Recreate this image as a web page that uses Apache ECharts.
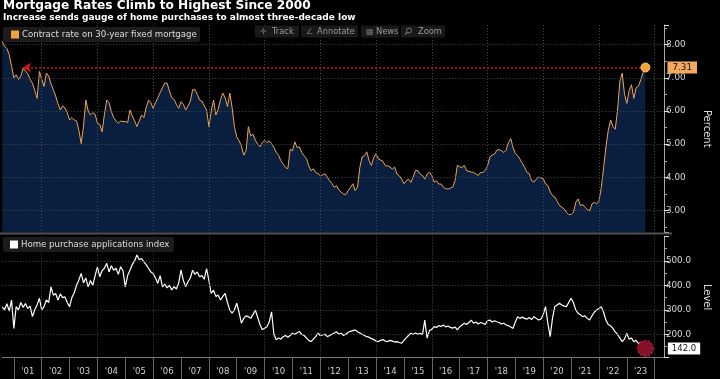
<!DOCTYPE html>
<html><head><meta charset="utf-8">
<script src="https://cdn.jsdelivr.net/npm/echarts@6/dist/echarts.min.js"></script>
<style>html,body{margin:0;padding:0;background:#000;}#c{width:720px;height:379px;}</style>
</head><body><div id="c"></div>
<script>
// Monthly categories Aug 2000 .. May 2024
const startYear = 2000, startMonth = 8, endYear = 2024, endMonth = 5;
const months = [];
for (let y = startYear, m = startMonth; y < endYear || (y === endYear && m <= endMonth);) {
  months.push(y + '-' + String(m).padStart(2, '0'));
  m++; if (m > 12) { m = 1; y++; }
}

// Contract rate on 30-year fixed mortgage (%), Aug 2000 .. Sep 2023
const contractRate = [
  8.10, 7.95, 7.88, 7.70, 7.35,
  7.00, 7.09, 6.95, 7.05, 7.29, 7.20, 7.12, 6.95, 6.84, 6.62, 6.38, 7.19,
  6.95, 6.74, 7.14, 7.05, 6.82, 6.64, 6.45, 6.22, 6.03, 6.15, 6.09, 5.95,
  5.73, 5.80, 5.73, 5.70, 5.42, 5.02, 5.55, 6.33, 6.00, 5.88, 5.95, 5.90,
  5.63, 5.60, 5.37, 5.90, 6.33, 6.25, 5.98, 5.80, 5.70, 5.63, 5.70, 5.68,
  5.68, 5.65, 6.03, 5.85, 5.70, 5.53, 5.70, 5.88, 5.80, 6.10, 6.33, 6.25,
  6.08, 6.25, 6.40, 6.55, 6.70, 6.84, 6.84, 6.60, 6.40, 6.35, 6.20, 6.08,
  6.28, 6.20, 6.03, 6.15, 6.30, 6.64, 6.64, 6.50, 6.33, 6.30, 6.15, 6.03,
  5.53, 6.00, 6.33, 5.88, 6.05, 6.35, 6.54, 6.40, 6.13, 6.54, 6.10, 5.53,
  5.22, 5.10, 4.95, 4.67, 4.80, 5.53, 5.25, 5.30, 5.12, 5.00, 4.92, 5.05,
  5.12, 5.05, 5.10, 5.02, 4.90, 4.75, 4.67, 4.50, 4.40, 4.30, 4.26, 4.85,
  4.80, 5.07, 4.90, 4.92, 4.75, 4.65, 4.57, 4.35, 4.20, 4.26, 4.15, 4.11,
  4.05, 4.08, 4.11, 4.01, 3.90, 3.81, 3.70, 3.75, 3.62, 3.55, 3.50, 3.48,
  3.60, 3.70, 3.81, 3.60, 3.70, 4.30, 4.62, 4.65, 4.77, 4.50, 4.36, 4.60,
  4.72, 4.55, 4.52, 4.48, 4.35, 4.35, 4.31, 4.25, 4.31, 4.10, 4.05, 3.95,
  3.81, 3.90, 3.95, 3.85, 4.01, 4.21, 4.20, 4.10, 4.06, 3.95, 4.10, 4.16,
  4.06, 3.86, 3.90, 3.80, 3.80, 3.70, 3.66, 3.65, 3.68, 3.71, 3.90, 4.36,
  4.32, 4.30, 4.36, 4.20, 4.18, 4.16, 4.15, 4.10, 4.06, 4.15, 4.15, 4.21,
  4.35, 4.62, 4.67, 4.70, 4.82, 4.84, 4.80, 4.75, 4.82, 5.05, 5.17, 4.90,
  4.72, 4.65, 4.55, 4.42, 4.30, 4.15, 4.11, 3.90, 3.86, 3.95, 4.01, 3.98,
  3.96, 3.80, 3.75, 3.56, 3.45, 3.41, 3.28, 3.15, 3.10, 3.05, 2.95, 2.88,
  2.88, 2.95, 3.25, 3.35, 3.15, 3.18, 3.10, 3.03, 3.00, 3.20, 3.25, 3.20,
  3.30, 3.69, 4.30, 4.92, 5.42, 5.73, 5.53, 5.45, 6.03, 6.90, 7.14, 6.50,
  6.23, 6.62, 6.79, 6.38, 6.70, 6.75, 6.94, 7.16, 7.31
];

// Home purchase applications index, Aug 2000 .. Sep 2023
const purchaseIndex = [
  312, 300, 325, 295, 340,
  224, 313, 300, 330, 310, 326, 305, 315, 272, 300, 320, 347,
  300, 313, 340, 330, 394, 360, 367, 340, 365, 350, 353, 330,
  313, 350, 370, 400, 422, 449, 410, 430, 394, 420, 400, 440,
  476, 435, 460, 470, 490, 455, 480, 462, 470, 445, 476, 460,
  394, 440, 462, 485, 500, 524, 505, 510, 496, 485, 470, 455,
  449, 430, 408, 440, 394, 405, 390, 400, 381, 395, 385, 410,
  462, 420, 394, 415, 430, 462, 445, 455, 435, 440, 425, 469,
  420, 367, 380, 355, 360, 340, 355, 367, 330, 300, 286, 300,
  327, 290, 245, 265, 275, 272, 265, 280, 299, 270, 240, 218,
  225, 231, 250, 292, 200, 177, 185, 180, 190, 195, 188, 195,
  204, 200, 206, 211, 200, 195, 185, 175, 170, 180, 190, 204,
  195, 197, 200, 190, 195, 200, 205, 210, 200, 204, 195, 200,
  208, 212, 215, 218, 210, 205, 200, 195, 190, 188, 182, 178,
  172, 170, 175, 178, 172, 170, 175, 172, 168, 170, 166, 163,
  175, 185, 195, 204, 200, 205, 200, 204, 198, 258, 184, 215,
  220, 231, 228, 235, 232, 238, 230, 234, 228, 225, 230, 218,
  230, 238, 245, 240, 248, 258, 245, 250, 242, 248, 245, 240,
  255, 258, 250, 255, 251, 248, 242, 245, 238, 235, 230, 224,
  250, 272, 265, 270, 265, 262, 268, 260, 272, 265, 258, 262,
  280, 313, 245, 190, 265, 313, 320, 327, 320, 315, 313, 330,
  347, 330, 300, 286, 280, 272, 275, 265, 258, 275, 290, 299,
  305, 313, 290, 258, 240, 235, 224, 210, 200, 185, 170, 180,
  204, 180, 185, 170, 175, 163, 165, 155, 142
];

const matchMonth = '2001-05';  // where the rate was last at today's level
const titleText = 'Mortgage Rates Climb to Highest Since 2000';
const subtitleText = 'Increase sends gauge of home purchases to almost three-decade low';
const rateLegend = 'Contract rate on 30-year fixed mortgage';
const indexLegend = 'Home purchase applications index';
const toolButtons = ['Track', 'Annotate', 'News', 'Zoom'];

const lastRateCat = months[contractRate.length - 1];
const lastRate = contractRate[contractRate.length - 1];
const lastIdxCat = months[purchaseIndex.length - 1];
const lastIdx = purchaseIndex[purchaseIndex.length - 1];

const FONT = '"DejaVu Sans", Verdana, sans-serif';
const gridLeft = 2.25, gridRight = 48;
const isJan = (i, v) => v.endsWith('-01');
const isJul = (i, v) => v.endsWith('-07');
const isEvenJan = (i, v) => v.endsWith('-01') && (+v.slice(0, 4)) % 2 === 0;
const splitStyle = { color: '#4a4a4a', type: [1, 2], width: 1 };

const chart = echarts.init(document.getElementById('c'), null, { renderer: 'canvas' });
const btnX = [255, 301, 361, 401];
const btnW = [44, 57, 38, 44];
const graphics = [
  { type: 'text', x: 3, y: 0, z: 100, style: { text: titleText, fill: '#fff', font: 'bold 12.2px ' + FONT } },
  { type: 'text', x: 3, y: 13.5, z: 100, style: { text: subtitleText, fill: '#fff', font: 'bold 9px ' + FONT } },
  { type: 'rect', z: 100, shape: { x: 3, y: 27, width: 197, height: 15, r: 2 }, style: { fill: '#1c1c1c' } },
  { type: 'rect', z: 101, shape: { x: 11, y: 30.5, width: 8, height: 8 }, style: { fill: '#f2a33c' } },
  { type: 'text', z: 101, x: 22, y: 34.5, style: { text: rateLegend, fill: '#ddd', font: '8.6px ' + FONT, verticalAlign: 'middle' } },
  { type: 'rect', z: 100, shape: { x: 3, y: 237, width: 171, height: 15, r: 2 }, style: { fill: '#1c1c1c' } },
  { type: 'rect', z: 101, shape: { x: 10, y: 240.5, width: 8, height: 8 }, style: { fill: '#fff' } },
  { type: 'text', z: 101, x: 21, y: 244.5, style: { text: indexLegend, fill: '#ddd', font: '8.6px ' + FONT, verticalAlign: 'middle' } },
  { type: 'rect', z: 99, shape: { x: 0, y: 232.5, width: 672, height: 2 }, style: { fill: '#505050' } }
];
const icons = ['\u271B', '\u2220', '\u25A6', ''];
toolButtons.forEach((t, k) => {
  graphics.push({ type: 'rect', z: 100, shape: { x: btnX[k], y: 25.5, width: btnW[k], height: 12 }, style: { fill: '#191919' } });
  if (icons[k]) graphics.push({ type: 'text', z: 101, x: btnX[k] + 5, y: 31.5, style: { text: icons[k], fill: '#777', font: '8px ' + FONT, verticalAlign: 'middle' } });
  graphics.push({ type: 'text', z: 101, x: btnX[k] + (k === 1 ? 16 : (k === 2 ? 15 : 17)), y: 31.5, style: { text: t, fill: '#9a9a9a', font: '8.3px ' + FONT, verticalAlign: 'middle' } });
});
graphics.push({ type: 'circle', z: 101, shape: { cx: 409, cy: 30.5, r: 2.5 }, style: { fill: 'none', stroke: '#777', lineWidth: 1 } });
graphics.push({ type: 'line', z: 101, shape: { x1: 407, y1: 32.5, x2: 405, y2: 34.5 }, style: { stroke: '#777', lineWidth: 1.2 } });

const option = {
  backgroundColor: '#000',
  animation: false,
  textStyle: { fontFamily: FONT },
  grid: [
    { left: gridLeft, right: gridRight, top: 25, height: 207.5 },
    { left: gridLeft, right: gridRight, top: 236.5, height: 121.2 }
  ],
  xAxis: [
    { type: 'category', gridIndex: 0, data: months, boundaryGap: false, z: 5,
      axisLine: { show: false }, axisTick: { show: false }, axisLabel: { show: false },
      splitLine: { show: true, interval: isEvenJan, lineStyle: splitStyle } },
    { type: 'category', gridIndex: 1, data: months, boundaryGap: false, z: 5,
      axisLine: { show: true, lineStyle: { color: '#777', width: 1 } },
      axisTick: { show: true, interval: isJan, length: 22, lineStyle: { color: '#666', width: 1 } },
      axisLabel: { show: true, interval: isJul, margin: 10, color: '#cfcfcf', fontSize: 8.5, fontFamily: FONT,
        formatter: v => "'" + v.slice(2, 4) },
      splitLine: { show: true, interval: isEvenJan, lineStyle: splitStyle } }
  ],
  yAxis: [
    { type: 'value', gridIndex: 0, position: 'right', min: 2.34, max: 8.59, z: 5,
      axisLine: { show: true, lineStyle: { color: '#aaa' } },
      axisTick: { show: true, length: 5, lineStyle: { color: '#ddd' } },
      minorTick: { show: true, splitNumber: 2, length: 3, lineStyle: { color: '#aaa' } },
      axisLabel: { color: '#d8d8d8', fontSize: 8.8, margin: 2, showMinLabel: false, showMaxLabel: false,
        formatter: v => v.toFixed(2) },
      splitLine: { show: true, showMinLine: false, showMaxLine: false, lineStyle: splitStyle },
      name: 'Percent', nameLocation: 'middle', nameRotate: -90, nameGap: 38,
      nameTextStyle: { color: '#ddd', fontSize: 10, fontFamily: FONT } },
    { type: 'value', gridIndex: 1, position: 'right', min: 104, max: 600, z: 5,
      axisLine: { show: true, lineStyle: { color: '#aaa' } },
      axisTick: { show: true, length: 5, lineStyle: { color: '#ddd' } },
      minorTick: { show: true, splitNumber: 2, length: 3, lineStyle: { color: '#aaa' } },
      axisLabel: { color: '#d8d8d8', fontSize: 8.8, margin: 2, showMinLabel: false, showMaxLabel: false,
        formatter: v => v.toFixed(1) },
      splitLine: { show: true, showMinLine: false, showMaxLine: false, lineStyle: splitStyle },
      name: 'Level', nameLocation: 'middle', nameRotate: -90, nameGap: 38,
      nameTextStyle: { color: '#ddd', fontSize: 10, fontFamily: FONT } }
  ],
  series: [
    { type: 'line', name: rateLegend, xAxisIndex: 0, yAxisIndex: 0, data: contractRate,
      showSymbol: false, symbol: 'none', z: 3,
      lineStyle: { color: '#eea54f', width: 1 },
      areaStyle: { color: '#0a1f3f', opacity: 1, origin: 'start' },
      markLine: { silent: true, symbol: ['arrow', 'none'], symbolSize: [7, 8], z: 6,
        label: { show: false },
        lineStyle: { color: '#d81818', type: [2, 2], width: 1.6 },
        data: [[{ xAxis: matchMonth, yAxis: lastRate }, { xAxis: lastRateCat, yAxis: lastRate }]] },
      markPoint: { silent: true, z: 8,
        data: [{ coord: [lastRateCat, lastRate], value: lastRate, symbol: 'circle', symbolSize: 9,
          itemStyle: { color: '#f5a53a', borderColor: '#ffc470', borderWidth: 1 },
          label: { show: true, position: 'right', distance: 17, formatter: lastRate.toFixed(2),
            backgroundColor: '#f4aa5c', color: '#111', fontSize: 8.8, fontFamily: FONT, padding: [2, 5, 1, 5] } }] } },
    { type: 'line', name: indexLegend, xAxisIndex: 1, yAxisIndex: 1, data: purchaseIndex,
      showSymbol: false, symbol: 'none', z: 3,
      lineStyle: { color: '#ffffff', width: 1.2 },
      markPoint: { silent: true, z: 8,
        data: [{ coord: [lastIdxCat, lastIdx], value: lastIdx, symbol: 'circle', symbolSize: 16,
          itemStyle: { color: '#85122a', borderColor: '#e8243e', borderWidth: 1, borderType: [2, 2] },
          label: { show: true, position: 'right', distance: 14, formatter: lastIdx.toFixed(1),
            backgroundColor: '#fff', color: '#111', fontSize: 8.5, fontFamily: FONT, padding: [2, 4, 1, 4] } }] } }
  ],
  graphic: graphics
};
chart.setOption(option);
</script></body></html>
